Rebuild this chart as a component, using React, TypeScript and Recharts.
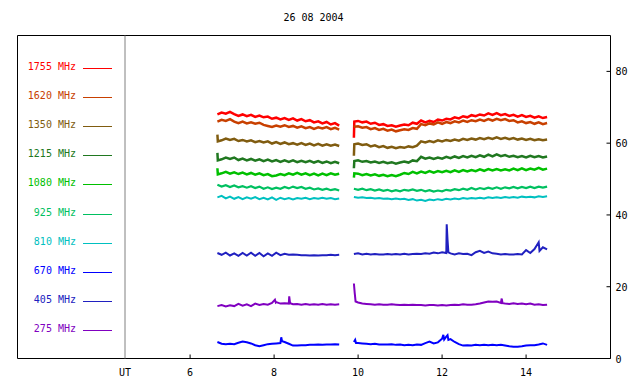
import React from 'react';
import { LineChart, Line, XAxis, YAxis, ReferenceArea, ReferenceLine, Legend } from 'recharts';

// UT hours; 9.7 is the gap between the two observing runs
const hours = [
  6.65, 6.75, 6.85, 6.95, 7.05, 7.15, 7.25, 7.35, 7.45, 7.55,
  7.65, 7.75, 7.85, 7.95, 8.05, 8.15, 8.25, 8.35, 8.45, 8.55,
  8.65, 8.75, 8.85, 8.95, 9.05, 9.15, 9.25, 9.35, 9.45, 9.55,
  9.7,
  9.9, 10.0, 10.1, 10.2, 10.3, 10.4, 10.5, 10.6, 10.7, 10.8,
  10.9, 11.0, 11.1, 11.2, 11.3, 11.4, 11.5, 11.6, 11.7, 11.8,
  11.9, 12.0, 12.1, 12.2, 12.3, 12.4, 12.5, 12.6, 12.7, 12.8,
  12.9, 13.0, 13.1, 13.2, 13.3, 13.4, 13.5, 13.6, 13.7, 13.8,
  13.9, 14.0, 14.1, 14.2, 14.3, 14.4, 14.5,
];

const f1755 = [
  68.0, 68.5, 68.2, 68.7, 68.1, 67.6, 68.0, 67.5, 67.9, 67.3,
  67.7, 67.2, 67.4, 66.8, 67.1, 66.6, 67.0, 66.5, 66.9, 66.3,
  66.7, 66.1, 66.4, 65.8, 66.1, 65.5, 65.9, 65.2, 65.6, 64.9,
  null,
  61.5, 66.2, 65.8, 66.0, 65.4, 65.7, 65.1, 65.3, 64.8, 65.0,
  64.6, 64.9, 65.2, 65.0, 65.7, 65.4, 66.3, 65.8, 66.2, 65.9,
  66.6, 66.3, 66.8, 66.6, 67.2, 66.9, 67.5, 67.2, 67.8, 67.5,
  68.0, 67.7, 68.3, 67.9, 68.4, 67.8, 68.1, 67.6, 67.9, 67.4,
  67.8, 67.3, 67.6, 67.1, 67.5, 67.0, 67.3,
];

const f1620 = [
  66.0, 66.5, 66.2, 66.7, 66.0, 65.6, 66.0, 65.5, 65.8, 65.4,
  65.7, 65.1, 64.8, 64.5, 64.9, 64.6, 65.0, 64.5, 64.8, 64.3,
  64.7, 64.2, 64.5, 64.0, 64.4, 64.1, 64.5, 63.9, 64.3, 63.8,
  null,
  64.5, 64.7, 64.3, 64.5, 63.9, 64.2, 63.7, 64.0, 63.5, 63.8,
  63.3, 63.6, 63.9, 63.7, 64.2, 64.0, 65.3, 65.0, 65.5, 65.2,
  65.8, 65.4, 65.9, 65.6, 66.1, 65.8, 66.3, 65.9, 66.4, 66.1,
  66.6, 66.2, 66.7, 66.3, 66.8, 66.4, 66.7, 66.2, 66.4, 65.8,
  66.1, 65.6, 65.9, 65.4, 65.8, 65.3, 65.6,
];

const f1350 = [
  62.4, 60.8, 61.3, 60.9, 61.2, 60.6, 60.9, 60.5, 60.8, 60.3,
  60.6, 60.2, 60.5, 59.9, 60.3, 59.8, 60.2, 59.7, 60.0, 59.6,
  60.0, 59.5, 59.9, 59.4, 59.8, 59.3, 59.7, 59.3, 59.6, 59.2,
  null,
  56.5, 59.9, 59.5, 59.7, 59.1, 59.4, 58.9, 59.2, 58.7, 59.0,
  58.6, 58.9, 58.7, 59.1, 58.9, 59.3, 60.5, 60.2, 60.6, 60.3,
  60.8, 60.5, 60.9, 60.6, 61.0, 60.7, 61.2, 60.9, 61.3, 61.0,
  61.4, 61.1, 61.5, 61.2, 61.6, 61.2, 61.5, 61.1, 61.4, 61.0,
  61.3, 60.9, 61.2, 60.8, 61.1, 60.8, 61.0,
];

const f1215 = [
  57.3, 55.5, 56.0, 55.6, 56.0, 55.3, 55.7, 55.2, 55.6, 55.1,
  55.5, 55.0, 55.4, 54.9, 55.3, 54.8, 55.2, 54.8, 55.2, 54.7,
  55.1, 54.7, 55.1, 54.6, 55.0, 54.5, 54.9, 54.4, 54.8, 54.4,
  null,
  53.0, 55.2, 54.8, 55.0, 54.6, 54.9, 54.5, 54.8, 54.4, 54.7,
  54.3, 54.6, 54.9, 54.6, 55.2, 55.0, 56.2, 55.7, 56.0, 55.6,
  56.0, 55.7, 56.2, 55.8, 56.3, 55.9, 56.4, 56.0, 56.5, 56.1,
  56.6, 56.2, 56.8, 56.3, 56.9, 56.4, 56.7, 56.2, 56.5, 56.1,
  56.4, 56.0, 56.5, 56.1, 56.4, 56.0, 56.3,
];

const f1080 = [
  53.0, 51.6, 52.0, 51.5, 51.9, 51.4, 51.8, 51.3, 51.7, 51.2,
  51.6, 51.1, 51.4, 50.8, 51.0, 51.4, 51.1, 51.6, 51.2, 51.7,
  51.2, 51.6, 51.1, 51.5, 51.0, 51.5, 51.1, 51.6, 51.2, 51.5,
  null,
  50.4, 51.5, 51.1, 51.4, 51.0, 51.3, 50.9, 51.2, 50.8, 51.1,
  50.8, 51.2, 51.7, 51.4, 52.0, 51.6, 52.1, 51.7, 52.2, 51.8,
  52.2, 51.9, 52.3, 51.9, 52.4, 52.0, 52.5, 52.1, 52.5, 52.2,
  52.7, 52.3, 52.8, 52.4, 52.8, 52.4, 52.7, 52.4, 52.9, 52.5,
  53.0, 52.5, 52.9, 52.6, 53.1, 52.6, 52.9,
];

const f925 = [
  48.4, 47.9, 48.3, 47.8, 48.2, 47.7, 48.0, 47.6, 48.0, 47.5,
  47.9, 47.3, 47.7, 47.2, 47.6, 47.3, 47.8, 47.4, 47.9, 47.5,
  47.8, 47.3, 47.6, 47.1, 47.4, 47.0, 47.3, 46.9, 47.2, 46.8,
  null,
  47.3, 47.0, 47.3, 46.9, 47.2, 46.8, 47.1, 46.7, 47.0, 46.6,
  46.9, 46.6, 47.0, 46.8, 47.1, 46.7, 47.0, 46.6, 46.9, 46.5,
  46.8, 46.6, 47.0, 46.8, 47.2, 46.9, 47.3, 47.0, 47.5, 47.1,
  47.5, 47.2, 47.6, 47.3, 47.7, 47.3, 47.7, 47.4, 47.8, 47.4,
  47.8, 47.5, 47.9, 47.5, 47.9, 47.6, 47.9,
];

const f810 = [
  44.9, 45.3, 44.6, 45.1, 44.5, 45.0, 44.4, 44.9, 44.5, 45.0,
  44.4, 44.8, 44.3, 44.9, 44.2, 44.8, 44.4, 44.7, 44.3, 44.7,
  44.5, 44.8, 44.4, 44.7, 44.5, 44.8, 44.5, 44.7, 44.4, 44.6,
  null,
  45.0, 44.8, 44.9, 44.7, 44.8, 44.6, 44.7, 44.5, 44.6, 44.4,
  44.6, 44.4, 44.5, 44.2, 44.4, 44.0, 44.2, 43.9, 44.3, 44.1,
  44.4, 44.2, 44.5, 44.3, 44.6, 44.4, 44.7, 44.5, 44.7, 44.6,
  44.8, 44.6, 44.9, 44.7, 44.9, 44.7, 45.0, 44.8, 45.0, 44.8,
  45.1, 44.9, 45.1, 44.9, 45.2, 45.0, 45.2,
];

const f670 = [
  4.6, 4.1, 4.0, 4.1, 4.0, 4.4, 4.7, 4.5, 4.2, 3.7,
  3.4, 3.7, 4.0, 4.1, 4.2, 4.3, 4.6, 4.1, 3.6, 3.6,
  3.7, 3.7, 3.8, 3.8, 3.9, 3.8, 3.9, 3.9, 4.0, 3.9,
  null,
  4.6, 4.3, 4.2, 4.1, 4.0, 4.1, 3.9, 3.9, 3.9, 4.0,
  3.8, 3.9, 3.7, 3.8, 3.7, 3.9, 3.8, 4.3, 4.7, 4.2,
  4.5, 5.5, 6.1, 5.4, 4.6, 4.0, 3.6, 3.7, 3.6, 3.8,
  3.7, 3.8, 3.7, 3.8, 3.7, 3.8, 3.6, 3.4, 3.3, 3.3,
  3.4, 3.6, 3.7, 3.7, 3.9, 4.2, 3.8,
];

const f405 = [
  29.4, 28.9, 29.5, 28.7, 29.3, 28.6, 29.4, 28.7, 29.5, 28.6,
  29.4, 28.5, 29.3, 28.6, 29.5, 28.8, 29.2, 28.9, 29.0, 28.9,
  28.8, 28.8, 28.7, 28.8, 28.7, 28.8, 28.8, 28.9, 28.8, 28.9,
  null,
  29.1, 29.3, 29.0, 29.2, 29.0, 29.1, 29.0, 29.0, 29.1, 29.0,
  29.1, 29.0, 29.2, 29.0, 29.1, 29.2, 29.1, 29.3, 29.2, 29.5,
  29.3, 29.6, 29.4, 29.3, 29.0, 29.3, 29.1, 29.2, 28.8, 29.6,
  30.0, 29.4, 29.8, 29.3, 29.2, 29.0, 29.1, 29.0, 29.0, 29.1,
  29.0, 30.2, 29.4, 30.5, 32.4, 31.0, 30.4,
];

const f275 = [
  14.6, 14.9, 14.5, 14.8, 14.6, 15.2, 14.7, 15.1, 14.6, 15.3,
  14.9, 15.2, 15.0, 15.5, 15.7, 15.3, 15.4, 15.3, 15.1, 15.2,
  15.0, 15.2, 15.0, 15.1, 15.0, 15.2, 15.0, 15.1, 15.0, 15.1,
  null,
  20.9, 15.6, 15.3, 15.2, 15.1, 15.0, 15.1, 15.0, 15.0, 15.1,
  15.0, 14.9, 15.0, 14.9, 15.0, 14.9, 14.9, 14.8, 14.9, 14.9,
  14.8, 14.9, 14.8, 14.9, 15.0, 14.9, 15.1, 15.0, 15.0, 15.1,
  15.3, 15.6, 15.9, 15.8, 15.9, 15.5, 15.3, 15.2, 15.4, 15.2,
  15.3, 15.1, 15.3, 15.0, 15.1, 14.9, 15.0,
];

// short spikes between the regular samples: [hour, value]
const series = [
  { name: '1755 MHz', color: '#ff0000', values: f1755, spikes: [[9.91, 66.0]], width: 2.5 },
  { name: '1620 MHz', color: '#c84000', values: f1620, spikes: [[9.91, 64.6]], width: 2.5 },
  { name: '1350 MHz', color: '#805c10', values: f1350, spikes: [[6.66, 60.5], [9.91, 59.7]], width: 2.5 },
  { name: '1215 MHz', color: '#207820', values: f1215, spikes: [[6.66, 55.2], [9.91, 55.0]], width: 2.5 },
  { name: '1080 MHz', color: '#00c000', values: f1080, spikes: [[6.66, 51.3], [9.91, 51.6]], width: 2.5 },
  { name: '925 MHz', color: '#00c060', values: f925, spikes: [], width: 2.2 },
  { name: '810 MHz', color: '#00c0c0', values: f810, spikes: [], width: 2 },
  { name: '670 MHz', color: '#0000ff', values: f670, spikes: [[8.17, 5.9], [8.19, 4.8], [9.93, 5.2], [9.95, 4.3], [12.03, 6.6], [12.05, 5.3], [12.13, 6.5], [12.15, 5.2]], width: 2 },
  { name: '405 MHz', color: '#2020c0', values: f405, spikes: [[12.11, 37.4], [12.13, 33.0], [12.15, 29.6], [14.32, 30.0]], width: 2 },
  { name: '275 MHz', color: '#8000c0', values: f275, spikes: [[8.02, 16.4], [8.04, 15.6], [8.36, 17.3], [8.38, 15.4], [9.92, 18.2], [9.94, 15.9], [13.42, 16.7], [13.44, 15.4]], width: 2 },
];

const hourTicks = [6, 8, 10, 12, 14];
const levelTicks = [0, 20, 40, 60, 80];
const X_MIN = 1.89;
const X_MAX = 16.01;
const UT_MARK = 4.45;

const FONT = '"DejaVu Sans Mono", "Liberation Mono", monospace';

const buildRows = (values: (number | null)[], spikes: number[][]) => {
  const rows = hours.map((t, i) => ({ t, v: values[i] }));
  spikes.forEach(([t, v]) => rows.push({ t, v }));
  return rows.sort((a, b) => a.t - b.t);
};

const BottomTick = ({ x, y, payload }: any) => {
  if (payload.value === UT_MARK) {
    return (
      <text x={x} y={y + 17} textAnchor="middle" fontFamily={FONT} fontSize={10} fill="#000">UT</text>
    );
  }
  return (
    <g>
      <line x1={x} x2={x} y1={y} y2={y - 4} stroke="#000" />
      <text x={x} y={y + 17} textAnchor="middle" fontFamily={FONT} fontSize={10} fill="#000">
        {payload.value}
      </text>
    </g>
  );
};

const TopTick = ({ x, y }: any) => <line x1={x} x2={x} y1={y} y2={y + 4} stroke="#000" />;

const RightTick = ({ x, y, payload }: any) => (
  <g>
    <line x1={x} x2={x - 4} y1={y} y2={y} stroke="#000" />
    <text x={x + 5} y={y + 4} textAnchor="start" fontFamily={FONT} fontSize={10} fill="#000">
      {payload.value}
    </text>
  </g>
);

const FreqLegend = () => (
  <div style={{ position: 'relative', width: 130, height: 384, fontFamily: FONT, fontSize: 10 }}>
    {series.map((s, i) => {
      const y = Math.round(68 + 29.1 * i);
      return (
        <React.Fragment key={s.name}>
          <div
            style={{
              position: 'absolute', left: 0, width: 76, top: y - 7, height: 12,
              lineHeight: '12px', textAlign: 'right', color: s.color, whiteSpace: 'pre',
            }}
          >
            {s.name}
          </div>
          <div style={{ position: 'absolute', left: 83, width: 29, top: y, height: 1, background: s.color }} />
        </React.Fragment>
      );
    })}
  </div>
);

export default function App() {
  return (
    <div style={{ position: 'absolute', left: 0, top: 0, width: 640, height: 384, background: '#fff', fontFamily: FONT }}>
      <div
        style={{
          position: 'absolute', left: 0, top: 12, width: 627, textAlign: 'center',
          fontSize: 10, lineHeight: '12px', color: '#000',
        }}
      >
        26 08 2004
      </div>
      <LineChart width={640} height={384} margin={{ top: 35.5, right: 0.5, bottom: 0.5, left: 17.5 }}>
        <XAxis
          xAxisId="b"
          dataKey="t"
          type="number"
          domain={[X_MIN, X_MAX]}
          allowDataOverflow
          ticks={[UT_MARK, ...hourTicks]}
          interval={0}
          height={25}
          axisLine={false}
          tickLine={false}
          tickSize={0}
          tickMargin={0}
          tick={<BottomTick />}
        />
        <XAxis
          xAxisId="t"
          orientation="top"
          dataKey="t"
          type="number"
          domain={[X_MIN, X_MAX]}
          allowDataOverflow
          ticks={hourTicks}
          interval={0}
          height={0}
          axisLine={false}
          tickLine={false}
          tickSize={0}
          tickMargin={0}
          tick={<TopTick />}
        />
        <YAxis
          yAxisId="r"
          orientation="right"
          type="number"
          domain={[0, 90]}
          allowDataOverflow
          ticks={levelTicks}
          interval={0}
          width={29}
          axisLine={false}
          tickLine={false}
          tickSize={0}
          tickMargin={0}
          tick={<RightTick />}
        />
        <ReferenceArea
          xAxisId="b"
          yAxisId="r"
          x1={X_MIN}
          x2={X_MAX}
          y1={0}
          y2={90}
          fill="none"
          stroke="#000"
          strokeWidth={1}
          ifOverflow="visible"
        />
        <ReferenceLine xAxisId="b" yAxisId="r" x={UT_MARK} stroke="#808080" strokeWidth={1} />
        {series.map((s) => (
          <Line
            key={s.name}
            xAxisId="b"
            yAxisId="r"
            data={buildRows(s.values, s.spikes)}
            dataKey="v"
            name={s.name}
            type="linear"
            stroke={s.color}
            strokeWidth={s.width}
            strokeLinejoin="miter"
            dot={false}
            activeDot={false}
            isAnimationActive={false}
          />
        ))}
        <Legend
          layout="vertical"
          align="center"
          verticalAlign="middle"
          wrapperStyle={{ left: 0, top: 0, width: 130, height: 384 }}
          content={<FreqLegend />}
        />
      </LineChart>
    </div>
  );
}
